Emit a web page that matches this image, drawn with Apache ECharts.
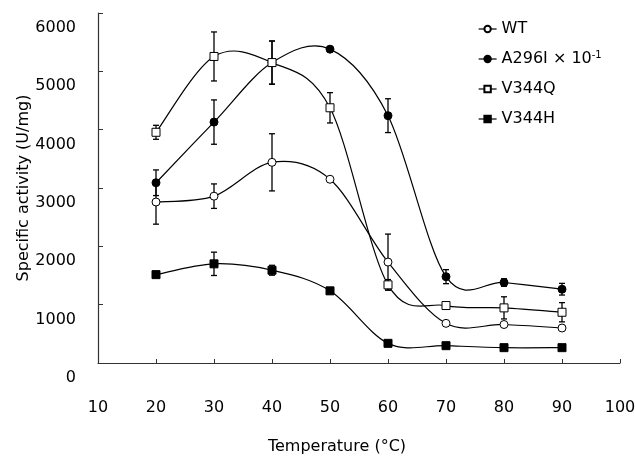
<!DOCTYPE html>
<html>
<head>
<meta charset="utf-8">
<script src="https://cdn.jsdelivr.net/npm/echarts@6/dist/echarts.min.js"></script>
<style>html,body{margin:0;padding:0;background:#fff}#c{width:635px;height:456px}</style>
</head>
<body>
<div id="c"></div>
<script>
var temps = [20, 30, 40, 50, 60, 70, 80, 90];
var seriesNames = ['WT', 'A296I', 'V344Q', 'V344H'];
var wt    = [2760, 2860, 3440, 3150, 1730, 680, 660, 600];
var a296i = [3090, 4130, 5150, 5380, 4240, 1480, 1380, 1265];
var v344q = [3955, 5255, 5150, 4375, 1340, 985, 945, 870];
var v344h = [1515, 1700, 1590, 1237, 337, 297, 263, 263];
var wtErr    = [380, 210, 490, 40, 480, 0, 0, 0];
var a296iErr = [220, 380, 370, 0, 290, 120, 65, 100];
var v344qErr = [120, 420, 370, 260, 90, 0, 190, 165];
var v344hErr = [0, 200, 85, 0, 0, 0, 0, 0];
var xTicks = [10, 20, 30, 40, 50, 60, 70, 80, 90, 100];
var yTicks = [0, 1000, 2000, 3000, 4000, 5000, 6000];

var FONT = 'DejaVu Sans';
var chart = echarts.init(document.getElementById('c'), null, {renderer: 'canvas'});

function pairs(vals) { return temps.map(function (t, i) { return [t, vals[i]]; }); }
function errData(vals, errs) {
  var out = [];
  temps.forEach(function (t, i) { if (errs[i] > 0) out.push([t, vals[i] - errs[i], vals[i] + errs[i]]); });
  return out;
}
function errSeries(vals, errs) {
  return {
    type: 'custom', z: 1, silent: true,
    data: errData(vals, errs),
    renderItem: function (params, api) {
      var x = api.value(0);
      var lo = api.coord([x, api.value(1)]);
      var hi = api.coord([x, api.value(2)]);
      var st = {stroke: '#000', lineWidth: 1.3};
      return {type: 'group', children: [
        {type: 'line', shape: {x1: lo[0], y1: lo[1], x2: hi[0], y2: hi[1]}, style: st},
        {type: 'line', shape: {x1: lo[0] - 3, y1: lo[1], x2: lo[0] + 3, y2: lo[1]}, style: st},
        {type: 'line', shape: {x1: hi[0] - 3, y1: hi[1], x2: hi[0] + 3, y2: hi[1]}, style: st}
      ]};
    }
  };
}
// Smoothed curve (Catmull-Rom style Bezier) through the data points; positions via api.coord.
function curveSeries(vals) {
  return {
    type: 'custom', z: 2, silent: true,
    data: pairs(vals).slice(0, vals.length - 1),
    renderItem: function (params, api) {
      var i = params.dataIndex, n = vals.length;
      function P(k) { k = Math.max(0, Math.min(n - 1, k)); return api.coord([temps[k], vals[k]]); }
      var p0 = P(i - 1), p1 = P(i), p2 = P(i + 1), p3 = P(i + 2);
      var c1 = [p1[0] + (p2[0] - p0[0]) / 6, p1[1] + (p2[1] - p0[1]) / 6];
      var c2 = [p2[0] - (p3[0] - p1[0]) / 6, p2[1] - (p3[1] - p1[1]) / 6];
      return {type: 'bezierCurve',
        shape: {x1: p1[0], y1: p1[1], cpx1: c1[0], cpy1: c1[1], cpx2: c2[0], cpy2: c2[1], x2: p2[0], y2: p2[1]},
        style: {stroke: '#000', lineWidth: 1.2, fill: null}};
    }
  };
}
function markerSeries(name, vals, symbol, filled) {
  return {
    name: name, type: 'line', z: 3,
    data: pairs(vals),
    symbol: symbol, symbolSize: 8,
    lineStyle: {color: '#000', width: 0, opacity: 0},
    itemStyle: {color: filled ? '#000' : '#fff', borderColor: '#000', borderWidth: 1},
    color: '#000'
  };
}

chart.setOption({
  animation: false,
  backgroundColor: '#fff',
  textStyle: {fontFamily: FONT},
  grid: {left: 98, right: 15, top: 13, bottom: 93, containLabel: false, outerBoundsMode: 'none'},
  legend: {
    orient: 'vertical', left: 473, top: 15, itemGap: 12,
    itemWidth: 18, itemHeight: 8,
    data: seriesNames,
    lineStyle: {color: '#000', width: 1.2, opacity: 1},
    formatter: function (n) { return n === 'A296I' ? 'A296I × 10{sup|-1}' : n; },
    textStyle: {fontFamily: FONT, fontSize: 16, color: '#000', lineHeight: 18,
      rich: {sup: {fontFamily: FONT, fontSize: 10, verticalAlign: 'top', color: '#000', lineHeight: 12}}}
  },
  xAxis: {
    type: 'value', min: xTicks[0], max: xTicks[xTicks.length - 1], interval: 10,
    name: 'Temperature (°C)', nameLocation: 'middle', nameGap: 76,
    nameTextStyle: {fontFamily: FONT, fontSize: 16, color: '#000', padding: [0, 44, 0, 0]},
    axisLine: {show: true, onZero: false, lineStyle: {color: '#333', width: 1.2}},
    axisTick: {show: true, inside: true, length: 4, lineStyle: {color: '#333'}},
    axisLabel: {margin: 37, fontSize: 16, color: '#000', fontFamily: FONT, showMinLabel: true, showMaxLabel: true},
    splitLine: {show: false}
  },
  yAxis: {
    type: 'value', min: yTicks[0], max: yTicks[yTicks.length - 1], interval: 1000,
    name: 'Specific activity (U/mg)', nameLocation: 'middle', nameGap: 66, nameRotate: 90,
    nameMoveOverlap: false,
    nameTextStyle: {fontFamily: FONT, fontSize: 16, color: '#000'},
    axisLine: {show: true, lineStyle: {color: '#333', width: 1.2}},
    axisTick: {show: true, inside: true, length: 5, lineStyle: {color: '#333'}},
    axisLabel: {margin: 22, fontSize: 16, color: '#000', fontFamily: FONT, verticalAlign: 'top', lineHeight: 30,
      formatter: function (v) { return String(v); }, showMinLabel: true, showMaxLabel: true},
    splitLine: {show: false}
  },
  series: [
    errSeries(wt, wtErr), errSeries(a296i, a296iErr), errSeries(v344q, v344qErr), errSeries(v344h, v344hErr),
    curveSeries(wt), curveSeries(a296i), curveSeries(v344q), curveSeries(v344h),
    markerSeries('WT', wt, 'circle', false),
    markerSeries('A296I', a296i, 'circle', true),
    markerSeries('V344Q', v344q, 'rect', false),
    markerSeries('V344H', v344h, 'rect', true)
  ]
});
</script>
</body>
</html>
